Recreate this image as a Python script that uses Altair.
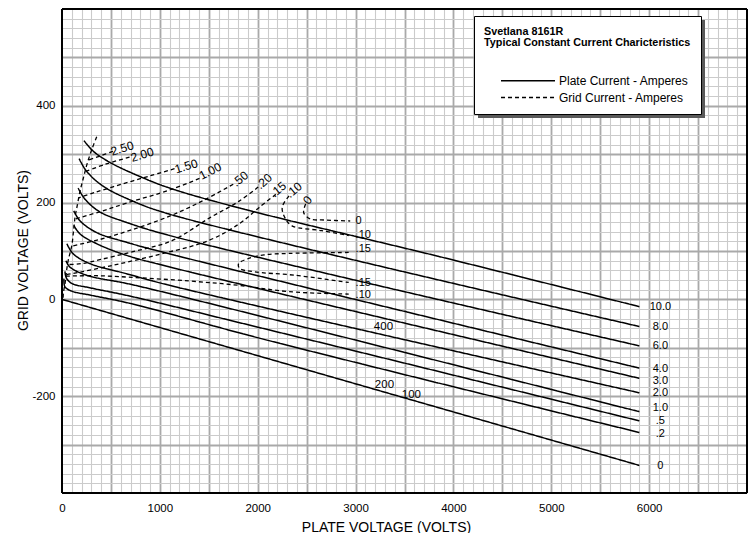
import altair as alt
import pandas as pd

FONT = "Liberation Sans"
INK = "#000000"
MAJOR = "#a9a9a9"
MINOR = "#cbcbcb"
PLATE = "Plate Current - Amperes"
GRID = "Grid Current - Amperes"
XT = "PLATE VOLTAGE (VOLTS)"
YT = "GRID VOLTAGE (VOLTS)"

# ---------------- values (volts) ----------------
# plate-current curves (solid); name = plate current in amperes
p100_x = [225, 320, 490, 795, 1100, 1810, 3845, 5900]
p100_y = [328, 306, 283, 254, 230, 189, 89, -15]
p80_x = [175, 250, 420, 725, 1100, 5900]
p80_y = [291, 265, 234, 203, 176, -56]
p60_x = [165, 235, 385, 660, 1100, 5900]
p60_y = [230, 207, 181, 159, 132, -96]
p40_x = [120, 185, 355, 660, 1100, 5900]
p40_y = [183, 162, 138, 118, 94, -142]
p30_x = [120, 185, 355, 660, 1100, 5900]
p30_y = [153, 135, 115, 91, 67, -163]
p20_x = [50, 115, 285, 660, 1100, 5900]
p20_y = [115, 94, 74, 53, 29, -193]
p10_x = [40, 80, 250, 660, 1100, 5900]
p10_y = [80, 67, 50, 33, 12, -232]
p05_x = [30, 45, 100, 285, 690, 2035, 5900]
p05_y = [58, 44, 33, 24, 7, -59, -251]
p02_x = [20, 30, 100, 285, 690, 2035, 5900]
p02_y = [43, 26, 17, 9, -8, -81, -275]
p00_x = [0, 5900]
p00_y = [0, -343]

# grid-current curves (dashed)
genv_x = [355, 305, 255, 220, 185, 155, 135, 120, 100, 65, 50, 40, 30, 15, 10]
genv_y = [336, 310, 279, 252, 224, 193, 172, 146, 111, 82, 64, 48, 31, 15, 0]
g250_x = [520, 400, 272]
g250_y = [306, 297, 288]
g200_x = [690, 440, 235]
g200_y = [294, 279, 264]
g150_x = [1150, 895, 610, 335, 172]
g150_y = [270, 255, 238, 221, 210]
g100_x = [1405, 1100, 660, 385, 133]
g100_y = [250, 226, 199, 181, 166]
g050_x = [1750, 1450, 1100, 700, 390, 98]
g050_y = [238, 205, 172, 143, 124, 110]
g020_x = [2005, 1810, 1505, 1120, 690, 385, 200, 57]
g020_y = [232, 203, 168, 121, 97, 82, 74, 72]
g015_x = [2185, 2015, 1810, 1490, 1015, 510, 100, 42]
g015_y = [217, 190, 156, 121, 94, 70, 53, 51]
g010h_x = [2320, 2250, 2285, 2350, 2655, 2930]
g010h_y = [214, 190, 166, 152, 142, 132]
g000h_x = [2490, 2470, 2540, 2675, 2945]
g000h_y = [197, 179, 166, 164, 162]
g015c_x = [2930, 2320, 2065, 1900, 1805, 1815, 1965, 2375, 2930]
g015c_y = [97, 95, 92, 84, 74, 64, 57, 50, 35]
g010l_x = [40, 340, 680, 1300, 1810, 2320, 2930]
g010l_y = [48, 49, 46, 38, 29, 16, 11]

# labels
plate_lbl = ["10.0", "8.0", "6.0", "4.0", "3.0", "2.0", "1.0", ".5", ".2", "0"]
plate_lbl_x = [6115] * 10
plate_lbl_y = [-15, -56, -97, -144, -168, -194, -225, -252, -279, -345]

gtop_lbl = ["2.50", "2.00", "1.50", "1.00", ".50", ".20", ".15", ".10", "0"]
gtop_lbl_x = [615, 820, 1270, 1515, 1820, 2065, 2210, 2370, 2510]
gtop_lbl_y = [312, 299, 275, 265, 249, 244, 227, 226, 205]
gtop_lbl_a = [343, 343, 343, 333, 321, 318, 320, 320, 310]

gright_lbl = ["0", ".10", ".15", ".15", ".10"]
gright_lbl_x = [3000, 3000, 3000, 3000, 3000]
gright_lbl_y = [162, 134, 105, 33, 9]

mid_lbl = ["400", "200", "100"]
mid_lbl_x = [3285, 3295, 3570]
mid_lbl_y = [-57, -176, -198]

# plot frame (axis limits)
x_lim = [0, 7000]
y_lim = [-400, 600]

# ---------------- tables ----------------
plate_curves = [("10.0", p100_x, p100_y), ("8.0", p80_x, p80_y), ("6.0", p60_x, p60_y),
                ("4.0", p40_x, p40_y), ("3.0", p30_x, p30_y), ("2.0", p20_x, p20_y),
                ("1.0", p10_x, p10_y), (".5", p05_x, p05_y), (".2", p02_x, p02_y),
                ("0", p00_x, p00_y)]
grid_curves = [("env", genv_x, genv_y), ("2.50", g250_x, g250_y), ("2.00", g200_x, g200_y),
               ("1.50", g150_x, g150_y), ("1.00", g100_x, g100_y), (".50", g050_x, g050_y),
               (".20", g020_x, g020_y), (".15", g015_x, g015_y), (".10 hook", g010h_x, g010h_y),
               ("0 hook", g000h_x, g000h_y), (".15 loop", g015c_x, g015c_y),
               (".10 low", g010l_x, g010l_y)]

rows = []
for kind, curves in ((PLATE, plate_curves), (GRID, grid_curves)):
    for name, xs, ys in curves:
        for i, (xv, yv) in enumerate(zip(xs, ys)):
            rows.append({"curve": kind + " " + name, "kind": kind, "i": i, "x": xv, "y": yv})
lines_df = pd.DataFrame(rows)

plate_lbl_df = pd.DataFrame({"t": plate_lbl, "x": plate_lbl_x, "y": plate_lbl_y})
gtop_df = pd.DataFrame({"t": gtop_lbl, "x": gtop_lbl_x, "y": gtop_lbl_y, "a": gtop_lbl_a})
gright_df = pd.DataFrame({"t": gright_lbl, "x": gright_lbl_x, "y": gright_lbl_y})
mid_df = pd.DataFrame({"t": mid_lbl, "x": mid_lbl_x, "y": mid_lbl_y})
vframe_df = pd.DataFrame({"x": x_lim})
hframe_df = pd.DataFrame({"y": y_lim})

# ---------------- scales / axes ----------------
xscale = alt.Scale(domain=x_lim, nice=False, zero=False)
yscale = alt.Scale(domain=y_lim, nice=False, zero=False)

xaxis = alt.Axis(
    values=list(range(0, 7001, 100)),
    titleFont=FONT, titleFontSize=14, titleFontWeight="normal", titleColor=INK,
    titleX=324, titleY=34, titleAlign="center", titleBaseline="middle",
    labelExpr="datum.value % 1000 === 0 && datum.value < 7000 ? toString(datum.value) : ''",
    labelFont=FONT, labelFontSize=11.5, labelColor=INK, labelPadding=9,
    labelOverlap=False, labelFlush=False,
    ticks=False, tickSize=0, domain=False, grid=True,
    gridColor={"condition": {"test": "datum.value % 500 === 0", "value": MAJOR}, "value": MINOR},
    gridWidth={"condition": {"test": "datum.value % 500 === 0", "value": 1.8}, "value": 1.1},
    gridOpacity={"condition": {"test": "datum.value <= 0 || datum.value >= 7000", "value": 0}, "value": 1},
)
yaxis = alt.Axis(
    values=list(range(-400, 601, 20)),
    titleFont=FONT, titleFontSize=14, titleFontWeight="normal", titleColor=INK,
    titleX=-39, titleY=241, titleAngle=270, titleAlign="center", titleBaseline="middle",
    labelExpr="datum.value % 200 === 0 && datum.value > -400 && datum.value < 600 ? toString(datum.value) : ''",
    labelFont=FONT, labelFontSize=11.5, labelColor=INK, labelPadding=7,
    labelOverlap=False, labelFlush=False,
    ticks=False, tickSize=0, domain=False, grid=True,
    gridColor={"condition": {"test": "datum.value % 100 === 0", "value": MAJOR}, "value": MINOR},
    gridWidth={"condition": {"test": "datum.value % 100 === 0", "value": 1.8}, "value": 1.1},
    gridOpacity={"condition": {"test": "datum.value <= -400 || datum.value >= 600", "value": 0}, "value": 1},
)

legend = alt.Legend(
    orient="none", legendX=412, legendY=7,
    title=["Svetlana 8161R", "Typical Constant Current Charicteristics"],
    titleFont=FONT, titleFontSize=10.8, titleFontWeight="bold", titleColor="black",
    titleLimit=400, titleLineHeight=11, titlePadding=25,
    padding=10, fillColor="white", strokeColor="black",
    symbolType="M-6.57,0L1.14,0", symbolSize=196, symbolStrokeWidth=1.3,
    symbolStrokeColor="black", symbolFillColor="transparent", symbolOffset=55,
    labelFont=FONT, labelFontSize=12, labelColor="black", labelOffset=4, labelLimit=300,
    rowPadding=2.7,
)


def X():
    return alt.X("x:Q", scale=xscale, title=XT, axis=xaxis)


def Y():
    return alt.Y("y:Q", scale=yscale, title=YT, axis=yaxis)


shadow = alt.Chart(pd.DataFrame({"s": [0]})).mark_rect(color="#5a5a5a").encode(
    x=alt.value(416), x2=alt.value(643), y=alt.value(11), y2=alt.value(109)
)

lines = alt.Chart(lines_df).mark_line(interpolate="catmull-rom", color=INK).encode(
    x=X(),
    y=Y(),
    detail="curve:N",
    order="i:Q",
    strokeDash=alt.StrokeDash("kind:N", scale=alt.Scale(domain=[PLATE, GRID], range=[[1, 0], [4, 3]]),
                              legend=legend),
    strokeWidth=alt.StrokeWidth("kind:N", scale=alt.Scale(domain=[PLATE, GRID], range=[1.5, 1.3]),
                                legend=None),
)

plate_text = alt.Chart(plate_lbl_df).mark_text(font=FONT, fontSize=11, color=INK, align="center",
                                                baseline="middle").encode(x=X(), y=Y(), text="t:N")
gtop_text = alt.Chart(gtop_df).mark_text(font=FONT, fontSize=12, color=INK, align="center",
                                          baseline="middle").encode(
    x=X(), y=Y(), text="t:N", angle=alt.Angle("a:Q", scale=None))
gright_text = alt.Chart(gright_df).mark_text(font=FONT, fontSize=11, color=INK, align="left",
                                              baseline="middle").encode(x=X(), y=Y(), text="t:N")
mid_text = alt.Chart(mid_df).mark_text(font=FONT, fontSize=11.5, color=INK, align="center",
                                        baseline="middle").encode(x=X(), y=Y(), text="t:N")

vframe = alt.Chart(vframe_df).mark_rule(color="black", strokeWidth=2).encode(x=X())
hframe = alt.Chart(hframe_df).mark_rule(color="black", strokeWidth=2).encode(y=Y())

chart = alt.layer(shadow, lines, plate_text, gtop_text, gright_text, mid_text, vframe, hframe).properties(
    width=685, height=484,
    padding={"left": 54, "top": 1, "right": 1, "bottom": 40},
    autosize=alt.AutoSizeParams(type="none"),
).configure_view(strokeWidth=0).configure(background="white")

chart.save("out.html", embed_options={"renderer": "svg", "actions": False})
